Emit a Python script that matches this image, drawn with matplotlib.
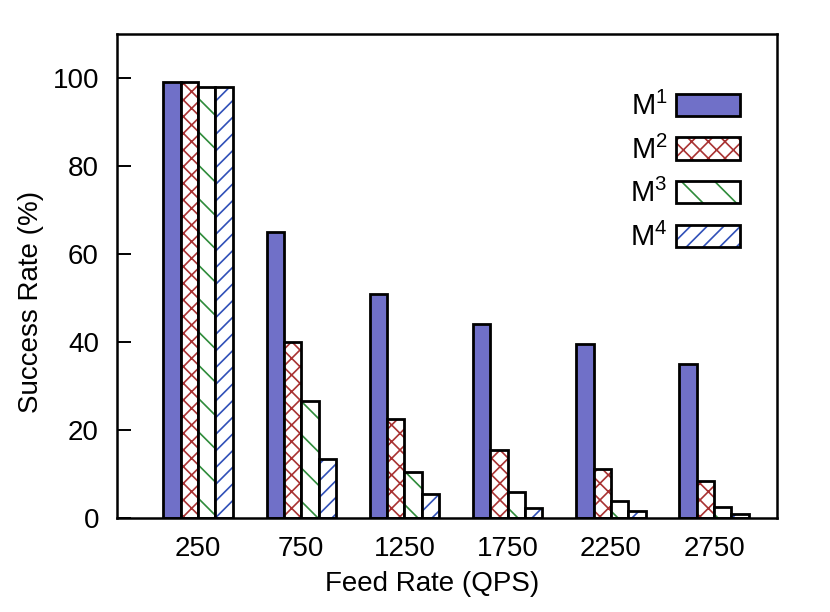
import numpy as np
import matplotlib
matplotlib.use("Agg")
import matplotlib.pyplot as plt
from matplotlib.legend_handler import HandlerTuple

plt.rcParams['font.family'] = ['Liberation Sans', 'DejaVu Sans']
plt.rcParams['mathtext.fontset'] = 'custom'
plt.rcParams['mathtext.rm'] = 'Liberation Sans'
plt.rcParams['hatch.linewidth'] = 1.2

# data
feed_rates = ['250', '750', '1250', '1750', '2250', '2750']
m1 = [99.0, 65.0, 51.0, 44.0, 39.5, 35.0]
m2 = [99.0, 40.0, 22.5, 15.5, 11.2, 8.5]
m3 = [98.0, 26.5, 10.5, 5.9, 3.8, 2.4]
m4 = [98.0, 13.5, 5.5, 2.2, 1.5, 0.9]
labels = ['M$\\mathrm{^1}$', 'M$\\mathrm{^2}$', 'M$\\mathrm{^3}$', 'M$\\mathrm{^4}$']

series = [m1, m2, m3, m4]
faces = ['#7070c8', 'white', 'white', 'white']
hatches = [None, 'xx', '\\', '//']
hatch_colors = ['#7070c8', '#a83232', '#2e8b3a', '#3050b8']

fig = plt.figure(figsize=(8.3, 6.12), dpi=100)
ax = fig.add_axes([117/830, 1-518/612, 660/830, 484/612])

x = np.arange(len(feed_rates))
width = 0.168
handles = []
for i, vals in enumerate(series):
    pos = x + (i - 1.5) * width
    fill = ax.bar(pos, vals, width, color=faces[i], edgecolor=hatch_colors[i],
                  hatch=hatches[i], linewidth=0)
    edge = ax.bar(pos, vals, width, fill=False, edgecolor='black', linewidth=2.0)
    handles.append((fill[0], edge[0]))

ax.set_xlim(-0.785, 5.61)
ax.set_ylim(0, 110)
ax.set_xticks(x)
ax.set_xticklabels(feed_rates)
ax.set_yticks([0, 20, 40, 60, 80, 100])
ax.tick_params(axis='y', direction='in', length=10, width=1.4, pad=13, labelsize=20)
ax.tick_params(axis='x', length=0, pad=13, labelsize=20)
for s in ax.spines.values():
    s.set_linewidth(1.8)

ax.set_xlabel('Feed Rate (QPS)', fontsize=20)
ax.set_ylabel('Success Rate (%)', fontsize=20)
ax.xaxis.label.set_va('center')
ax.yaxis.label.set_va('center')
ax.xaxis.set_label_coords(0.477, -0.136)
ax.yaxis.set_label_coords(-0.13, 0.446)

ax.legend(handles, labels, handler_map={tuple: HandlerTuple(ndivide=1)},
          loc='upper right', bbox_to_anchor=(0.962, 0.905), frameon=False,
          markerfirst=False, fontsize=21, handlelength=2.2, handleheight=0.8,
          labelspacing=0.5, handletextpad=0.3, borderaxespad=0)

fig.savefig('out.png', dpi=100)
